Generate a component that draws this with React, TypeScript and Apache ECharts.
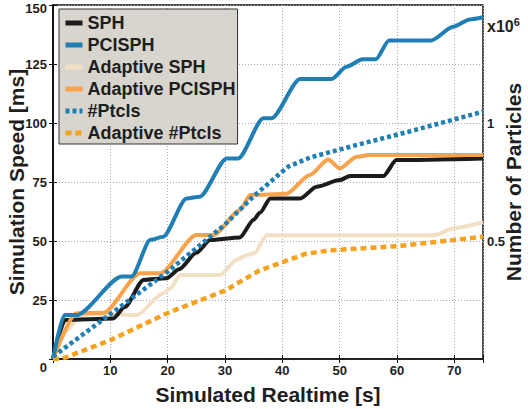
import React, { useEffect, useRef } from "react";
import * as echarts from "echarts";

const seriesNames = ["SPH", "PCISPH", "Adaptive SPH", "Adaptive PCISPH", "#Ptcls", "Adaptive #Ptcls"];

const sphT = [0, 2.1, 10.5, 12.5, 15.8, 19.8, 22, 25, 27.4, 32.6, 35, 36.1, 37.9, 43.1, 46, 50, 51.8, 57.6, 59.9, 75];
const sphV = [0, 16.5, 17.2, 22, 33.5, 34.2, 38, 45, 50.4, 51.5, 59, 62, 68, 68, 73, 75.8, 77.5, 77.5, 84.3, 85];

const pcisphT = [0, 2, 4.1, 12, 13.7, 17, 19.2, 23.3, 25.6, 30.3, 32.3, 36.7, 38.1, 43.1, 48.6, 51.2, 54, 56.3, 58.6, 66, 69.8, 72.7, 75];
const pcisphV = [0, 18.6, 18.6, 35, 35, 50.5, 51.8, 68, 68.8, 85, 85, 102, 102, 118.6, 118.6, 123.8, 127, 127, 135, 135, 140.8, 143.9, 144.8];

const adSphT = [0, 2.4, 4.7, 7, 11, 14.6, 19.2, 20.4, 22.2, 29.1, 32, 33.8, 35.1, 37.3, 66.4, 70, 75];
const adSphV = [0, 12.3, 17.9, 19, 19, 18.6, 27.8, 29.9, 35.6, 35.6, 42, 44, 44.8, 52.4, 52.4, 55.5, 58];

const adPciT = [0, 4.1, 8.8, 15.2, 18.7, 25, 28, 32.6, 34.4, 40.7, 44.8, 48, 50, 53, 55, 75];
const adPciV = [0, 19.4, 19.6, 36.3, 36.3, 52.5, 52.5, 63, 69.5, 70, 78, 84.5, 80.8, 85.7, 86.4, 86.4];

const ptclsT = [0, 10, 20, 30, 35, 41, 45, 53, 62, 75];
const ptclsV = [0.01, 0.19, 0.37, 0.57, 0.69, 0.815, 0.855, 0.907, 0.963, 1.048];

const adPtclsT = [0, 1.5, 10, 20, 30, 36, 44, 48, 60, 75];
const adPtclsV = [0, 0, 0.08, 0.195, 0.29, 0.375, 0.445, 0.46, 0.478, 0.518];

const xTicks = [10, 20, 30, 40, 50, 60, 70];
const rightTicks = [0.5, 1];

const zip = (t: number[], v: number[]) => t.map((x, i) => [x, v[i]]);

const FONT = "'Liberation Sans', Arial, sans-serif";
const TXT = "#1e1e1e";

export default function App() {
  const ref = useRef<HTMLDivElement>(null);
  useEffect(() => {
    if (!ref.current) return;
    const chart = echarts.init(ref.current, null, { renderer: "svg" });
    const solid = (name: string, t: number[], v: number[], color: string) => ({
      name,
      type: "line",
      data: zip(t, v),
      showSymbol: false,
      symbol: "none",
      smooth: 0.25,
      smoothMonotone: "x",
      lineStyle: { color, width: 4 },
      itemStyle: { color },
      yAxisIndex: 0,
    });
    const dotted = (name: string, t: number[], v: number[], color: string, dash: number[]) => ({
      name,
      type: "line",
      data: zip(t, v),
      showSymbol: false,
      symbol: "none",
      lineStyle: { color, width: 4.5, type: dash, cap: "butt" },
      itemStyle: { color },
      yAxisIndex: 1,
    });
    const labelStyle = { fontFamily: FONT, fontWeight: "bold", fontSize: 13, color: TXT };
    const nameStyle = { fontFamily: FONT, fontWeight: "bold", fontSize: 21, color: TXT };
    chart.setOption({
      animation: false,
      backgroundColor: "#fff",
      grid: {
        left: 53,
        right: 45,
        top: 5,
        bottom: 50,
        containLabel: false,
        outerBoundsMode: "none",
        show: true,
        borderColor: "#111",
        borderWidth: 1.5,
      },
      legend: {
        data: seriesNames,
        orient: "vertical",
        left: 59,
        top: 9,
        padding: [5, 2, 2, 4],
        itemGap: 4,
        itemWidth: 17,
        itemHeight: 14,
        backgroundColor: "#d8d5cf",
        borderColor: "#333",
        borderWidth: 1,
        itemStyle: { opacity: 0 },
        lineStyle: { width: 5 },
        textStyle: { fontFamily: FONT, fontWeight: "bold", fontSize: 18, color: TXT, lineHeight: 18 },
      },
      xAxis: [
        {
          type: "value",
          min: 0,
          max: 75,
          interval: 10,
          name: "Simulated Realtime [s]",
          nameLocation: "middle",
          nameGap: 25,
          nameMoveOverlap: false,
          nameTextStyle: nameStyle,
          axisLine: { show: true, lineStyle: { color: "#111", width: 1.5 } },
          axisTick: { show: true, inside: true, length: 4, lineStyle: { color: "#111" } },
          axisLabel: {
            ...labelStyle,
            margin: 5,
            formatter: (v: number) => (xTicks.includes(v) ? String(v) : ""),
          },
          splitLine: { show: true, lineStyle: { color: "#aaa", type: [1, 2], width: 1 } },
        },
        {
          type: "value",
          position: "top",
          min: 0,
          max: 75,
          interval: 10,
          axisLine: { show: false },
          axisTick: { show: true, inside: true, length: 4, lineStyle: { color: "#111" } },
          axisLabel: { show: false },
          splitLine: { show: false },
        },
      ],
      yAxis: [
        {
          type: "value",
          min: 0,
          max: 150,
          interval: 25,
          name: "Simulation Speed [ms]",
          nameLocation: "middle",
          nameRotate: 90,
          nameGap: 26,
          nameMoveOverlap: false,
          nameTextStyle: nameStyle,
          axisLine: { show: true, lineStyle: { color: "#111", width: 1.5 } },
          axisTick: { show: true, inside: true, length: 4, lineStyle: { color: "#111" } },
          axisLabel: {
            ...labelStyle,
            margin: 6,
            formatter: (v: number) => (v === 0 ? "{z|0}" : v === 150 ? "{t|150}" : String(v)),
            rich: {
              z: { ...labelStyle, padding: [16, 0, 0, 0] },
              t: { ...labelStyle, padding: [6, 0, 0, 0] },
            },
          },
          splitLine: { show: true, lineStyle: { color: "#aaa", type: [1, 2], width: 1 } },
        },
        {
          type: "value",
          position: "right",
          min: 0,
          max: 1.5,
          interval: 0.25,
          name: "Number of Particles",
          nameLocation: "middle",
          nameRotate: 90,
          nameGap: 20,
          nameMoveOverlap: false,
          nameTextStyle: nameStyle,
          axisLine: { show: true, lineStyle: { color: "#111", width: 1.5 } },
          axisTick: { show: true, inside: true, length: 4, lineStyle: { color: "#111" } },
          axisLabel: {
            ...labelStyle,
            margin: 4,
            formatter: (v: number) => (rightTicks.includes(v) ? String(v) : ""),
          },
          splitLine: { show: false },
        },
      ],
      graphic: [
        {
          type: "text",
          left: 487,
          top: 16,
          style: {
            text: "x10{s|6}",
            fontFamily: FONT,
            fontWeight: "bold",
            fontSize: 16,
            fill: TXT,
            rich: {
              s: { fontFamily: FONT, fontWeight: "bold", fontSize: 11, fill: TXT, verticalAlign: "top", padding: [0, 0, 10, 0] },
            },
          },
        },
      ],
      series: [
        solid(seriesNames[2], adSphT, adSphV, "#f2e0c4"),
        solid(seriesNames[0], sphT, sphV, "#1c1c1c"),
        solid(seriesNames[3], adPciT, adPciV, "#f8a24b"),
        solid(seriesNames[1], pcisphT, pcisphV, "#1f7fb5"),
        dotted(seriesNames[5], adPtclsT, adPtclsV, "#f5a21f", [6, 4]),
        dotted(seriesNames[4], ptclsT, ptclsV, "#1f7fb5", [4, 3]),
      ],
    });
    return () => chart.dispose();
  }, []);
  return <div ref={ref} style={{ position: "fixed", left: 0, top: 0, width: 528, height: 409 }} />;
}
